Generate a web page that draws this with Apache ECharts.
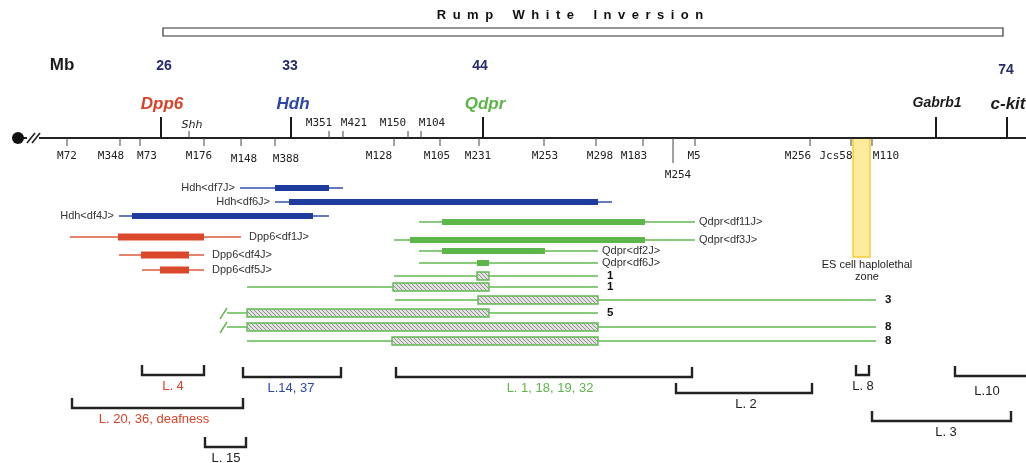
<!DOCTYPE html>
<html><head><meta charset="utf-8">
<script src="https://cdn.jsdelivr.net/npm/echarts@6/dist/echarts.min.js"></script>
<style>html,body{margin:0;padding:0;background:#fff}#c{width:1026px;height:463px}</style>
</head><body><div id="c"></div>
<script>
// ---------- DATA (map positions along the chromosome, arbitrary map units) ----------
const inversionTitle = 'Rump White Inversion';
const inversionSpan = [163, 1003];

const mbLabels = ['26', '33', '44', '74'];
const mbPos = [164, 290, 480, 1006];

const genes = ['Dpp6', 'Hdh', 'Qdpr', 'Gabrb1', 'c-kit'];
const genePos = [161, 291, 483, 936, 1007];
const geneLabelPos = [162, 293, 485, 937, 1008];

const upperMarkers = ['Shh', 'M351', 'M421', 'M150', 'M104'];
const upperPos = [189, 329, 343, 408, 421];
const upperLabelPos = [192, 319, 354, 393, 432];

const lowerMarkers = ['M72', 'M348', 'M73', 'M176', 'M148', 'M388', 'M128', 'M105', 'M231', 'M253', 'M298', 'M183', 'M254', 'M5', 'M256', 'Jcs58', 'M110'];
const lowerPos = [67, 120, 140, 204, 241, 275, 394, 440, 479, 544, 596, 643, 673, 695, 810, 851, 872];
const lowerLabelPos = [67, 111, 147, 199, 244, 286, 379, 437, 478, 545, 600, 634, 678, 694, 798, 836, 886];
const lowerLabelTier = [0, 0, 0, 0, 1, 1, 0, 0, 0, 0, 0, 0, 2, 0, 0, 0, 0];

const haploZone = [853, 870];
const haploLabel = 'ES cell haplolethal\nzone';

const delNames = ['Hdh<df7J>', 'Hdh<df6J>', 'Hdh<df4J>', 'Qdpr<df11J>', 'Dpp6<df1J>', 'Qdpr<df3J>', 'Qdpr<df2J>', 'Dpp6<df4J>', 'Qdpr<df6J>', 'Dpp6<df5J>'];
const delGroup = ['Hdh', 'Hdh', 'Hdh', 'Qdpr', 'Dpp6', 'Qdpr', 'Qdpr', 'Dpp6', 'Qdpr', 'Dpp6'];
const delOuterStart = [240, 275, 119, 419, 70, 394, 419, 119, 419, 142];
const delOuterEnd = [343, 612, 329, 695, 241, 695, 598, 204, 598, 204];
const delInnerStart = [275, 289, 132, 442, 118, 410, 442, 141, 477, 160];
const delInnerEnd = [329, 598, 313, 645, 204, 645, 545, 189, 489, 189];

const compLabels = ['1', '1', '3', '5', '8', '8'];
const compLineStart = [394, 247, 395, 227, 227, 247];
const compLineEnd = [598, 598, 876, 598, 876, 876];
const compBoxStart = [477, 393, 478, 247, 247, 392];
const compBoxEnd = [489, 489, 598, 489, 598, 598];
const compBroken = [false, false, false, true, true, false];

const bracketLabels = ['L. 4', 'L.14, 37', 'L. 20, 36, deafness', 'L. 15', 'L. 1, 18, 19, 32', 'L. 2', 'L. 8', 'L.10', 'L. 3'];
const bracketStart = [142, 243, 72, 205, 396, 676, 856, 955, 872];
const bracketEnd = [204, 341, 243, 246, 692, 812, 869, 1040, 1011];
const bracketLabelPos = [173, 291, 154, 226, 550, 746, 863, 987, 946];
const bracketGroup = ['Dpp6', 'Hdh', 'Dpp6', '', 'Qdpr', '', '', '', ''];

// ---------- LAYOUT (vertical tracks) & STYLE ----------
const Y_TITLE = 15, Y_BOX = [28, 36], Y_MB = 66, Y_GENE = 104, Y_CHR = 138;
const delRows = [188, 202, 216, 222, 237, 240, 251, 255, 263, 270];
const compRows = [276, 287, 300, 313, 327, 341];
const bracketRows = [365, 367, 398, 437, 367, 383, 365, 366, 411];
const COL = {
  Dpp6: { text: '#d8432a', bar: '#d9482b', line: '#dd5a3c' },
  Hdh: { text: '#2b46a8', bar: '#1e3b9e', line: '#2f4eaa' },
  Qdpr: { text: '#5db549', bar: '#5cb64a', line: '#62b952' },
  '': { text: '#222', bar: '#222', line: '#222' }
};
const geneColors = ['#d8432a', '#2b46a8', '#5db549', '#1c1c1c', '#1c1c1c'];
const geneSizes = [17, 17, 17, 14, 17];
const SANS = '"Liberation Sans", Arial, sans-serif';
const MONO = '"DejaVu Sans Mono", monospace';

// hatch pattern
const pc = document.createElement('canvas'); pc.width = 4; pc.height = 4;
const pg = pc.getContext('2d');
pg.fillStyle = '#e2e2e2'; pg.fillRect(0, 0, 4, 4);
pg.strokeStyle = '#868686'; pg.lineWidth = 0.9;
pg.beginPath(); pg.moveTo(0, 0); pg.lineTo(4, 4); pg.moveTo(-1, 3); pg.lineTo(1, 5); pg.moveTo(3, -1); pg.lineTo(5, 1); pg.stroke();
const hatch = { image: pc, repeat: 'repeat' };

const chart = echarts.init(document.getElementById('c'), null, { renderer: 'canvas' });

function px(api, x, y) { return api.coord([x, y]); }
function txt(text, x, y, font, fill, align, vAlign, extra) {
  return { type: 'text', style: Object.assign({ text, x, y, font, fill, align: align || 'center', verticalAlign: vAlign || 'middle' }, extra || {}) };
}
function base(name, data, renderItem, z) {
  return { type: 'custom', name, coordinateSystem: 'cartesian2d', data, renderItem, silent: true, clip: false, animation: false, z: z || 2 };
}
const spaced = inversionTitle.split(' ').map(w => w.split('').join('\u2002')).join('\u2003\u2002');

const series = [
  // header: inversion box, title, Mb and Mb values
  base('header', [[inversionSpan[0], Y_BOX[0]]], (p, api) => {
    const a = px(api, inversionSpan[0], Y_BOX[0]), b = px(api, inversionSpan[1], Y_BOX[1]);
    const ch = [
      { type: 'rect', shape: { x: a[0], y: a[1], width: b[0] - a[0], height: b[1] - a[1] }, style: { fill: '#fff', stroke: '#333', lineWidth: 1.2 } },
      txt(spaced, px(api, (inversionSpan[0] + inversionSpan[1]) / 2, Y_TITLE)[0] - 13, px(api, 0, Y_TITLE)[1], 'bold 13px ' + SANS, '#111'),
      txt('Mb', px(api, 62, Y_MB)[0], px(api, 0, Y_MB - 1)[1], 'bold 17px ' + SANS, '#1c1c1c')
    ];
    mbLabels.forEach((m, i) => {
      const c = px(api, mbPos[i], i === 3 ? Y_MB + 4 : Y_MB);
      ch.push(txt(m, c[0], c[1], 'bold 14px ' + SANS, '#262c6a'));
    });
    return { type: 'group', children: ch };
  }),
  // haplolethal zone
  base('zone', [[haploZone[0], Y_CHR]], (p, api) => {
    const a = px(api, haploZone[0], Y_CHR), b = px(api, haploZone[1], 257);
    return { type: 'group', children: [
      { type: 'rect', shape: { x: a[0], y: a[1], width: b[0] - a[0], height: b[1] - a[1] }, style: { fill: '#fbeb9a', stroke: '#f2cd3c', lineWidth: 1.5 } },
      txt(haploLabel, px(api, 867, 0)[0], px(api, 0, 271)[1], '11px ' + SANS, '#222', 'center', 'middle', { lineHeight: 12 })
    ] };
  }, 1),
  // chromosome line + centromere
  base('chromosome', [[30, Y_CHR]], (p, api) => {
    const a = px(api, 30, Y_CHR), b = px(api, 1026, Y_CHR), c = px(api, 18, Y_CHR);
    return { type: 'group', children: [
      { type: 'line', shape: { x1: a[0], y1: a[1], x2: b[0], y2: b[1] }, style: { stroke: '#222', lineWidth: 2 } },
      { type: 'line', shape: { x1: c[0], y1: c[1], x2: a[0], y2: a[1] }, style: { stroke: '#222', lineWidth: 2 } },
      { type: 'circle', shape: { cx: c[0], cy: c[1], r: 6 }, style: { fill: '#111' } },
      { type: 'rect', shape: { x: c[0] + 9, y: c[1] - 6, width: 12, height: 12 }, style: { fill: '#fff' } },
      { type: 'line', shape: { x1: c[0] + 9, y1: c[1] + 5, x2: c[0] + 17, y2: c[1] - 5 }, style: { stroke: '#222', lineWidth: 1.6 } },
      { type: 'line', shape: { x1: c[0] + 14, y1: c[1] + 5, x2: c[0] + 22, y2: c[1] - 5 }, style: { stroke: '#222', lineWidth: 1.6 } }
    ] };
  }, 3),
  // genes
  base('genes', genePos.map((g, i) => [g, Y_CHR]), (p, api) => {
    const i = p.dataIndex, a = px(api, genePos[i], Y_CHR), t = px(api, geneLabelPos[i], Y_GENE - (i === 3 ? 1 : 0));
    return { type: 'group', children: [
      { type: 'line', shape: { x1: a[0], y1: a[1], x2: a[0], y2: a[1] - 21 }, style: { stroke: '#1a1a1a', lineWidth: 2 } },
      txt(genes[i], t[0], t[1], 'italic bold ' + geneSizes[i] + 'px ' + SANS, geneColors[i])
    ] };
  }, 3),
  // upper markers
  base('upper', upperPos.map(u => [u, Y_CHR]), (p, api) => {
    const i = p.dataIndex, a = px(api, upperPos[i], Y_CHR), t = px(api, upperLabelPos[i], i === 0 ? 125 : 123);
    return { type: 'group', children: [
      { type: 'line', shape: { x1: a[0], y1: a[1], x2: a[0], y2: a[1] - 7 }, style: { stroke: '#444', lineWidth: 1 } },
      txt(upperMarkers[i], t[0], t[1], i === 0 ? 'italic 11px "DejaVu Sans", sans-serif' : '11px ' + MONO, '#222')
    ] };
  }, 3),
  // lower markers
  base('lower', lowerPos.map(u => [u, Y_CHR]), (p, api) => {
    const i = p.dataIndex, tier = lowerLabelTier[i], a = px(api, lowerPos[i], Y_CHR);
    const t = px(api, lowerLabelPos[i], [156, 159, 175][tier]);
    return { type: 'group', children: [
      { type: 'line', shape: { x1: a[0], y1: a[1], x2: a[0], y2: a[1] + (tier === 2 ? 25 : 8) }, style: { stroke: '#444', lineWidth: 1 } },
      txt(lowerMarkers[i], t[0], t[1], '11px ' + MONO, '#222')
    ] };
  }, 3),
  // deletions
  base('deletions', delNames.map((d, i) => [delOuterStart[i], delRows[i]]), (p, api) => {
    const i = p.dataIndex, c = COL[delGroup[i]], y = delRows[i];
    const o1 = px(api, delOuterStart[i], y), o2 = px(api, delOuterEnd[i], y);
    const n1 = px(api, delInnerStart[i], y), n2 = px(api, delInnerEnd[i], y);
    const h = delGroup[i] === 'Dpp6' ? 7 : 6;
    const left = delGroup[i] === 'Hdh';
    const lab = left ? txt(delNames[i], o1[0] - 5, o1[1], '11px ' + SANS, '#333', 'right')
                     : txt(delNames[i], o2[0] + (delGroup[i] === 'Dpp6' ? 8 : 4), o2[1], '11px ' + SANS, '#333', 'left');
    return { type: 'group', children: [
      { type: 'line', shape: { x1: o1[0], y1: o1[1], x2: o2[0], y2: o2[1] }, style: { stroke: c.line, lineWidth: 1.5 } },
      { type: 'rect', shape: { x: n1[0], y: n1[1] - h / 2, width: n2[0] - n1[0], height: h }, style: { fill: c.bar } },
      lab
    ] };
  }, 4),
  // complementation rows
  base('complementation', compLabels.map((d, i) => [compLineStart[i], compRows[i]]), (p, api) => {
    const i = p.dataIndex, y = compRows[i];
    const l1 = px(api, compLineStart[i], y), l2 = px(api, compLineEnd[i], y);
    const b1 = px(api, compBoxStart[i], y), b2 = px(api, compBoxEnd[i], y);
    const ch = [
      { type: 'line', shape: { x1: l1[0], y1: l1[1], x2: l2[0], y2: l2[1] }, style: { stroke: '#62b952', lineWidth: 1.5 } },
      { type: 'rect', shape: { x: b1[0], y: b1[1] - 4, width: b2[0] - b1[0], height: 8 }, style: { fill: hatch, stroke: '#62b952', lineWidth: 1.4 } },
      txt(compLabels[i], l2[0] + 9, l2[1], 'bold 11.5px ' + SANS, '#111', 'left')
    ];
    if (compBroken[i]) ch.push({ type: 'line', shape: { x1: l1[0] - 7, y1: l1[1] + 6, x2: l1[0], y2: l1[1] - 5 }, style: { stroke: '#62b952', lineWidth: 1.4 } });
    return { type: 'group', children: ch };
  }, 4),
  // brackets
  base('brackets', bracketLabels.map((d, i) => [bracketStart[i], bracketRows[i]]), (p, api) => {
    const i = p.dataIndex, y = bracketRows[i];
    const a = px(api, bracketStart[i], y), b = px(api, bracketEnd[i], y + 10);
    const t = px(api, bracketLabelPos[i], y + 21 + (i === 7 ? 4 : 0));
    return { type: 'group', children: [
      { type: 'polyline', shape: { points: [[a[0], a[1]], [a[0], b[1]], [b[0], b[1]], [b[0], a[1]]] }, style: { stroke: '#222', lineWidth: 2.4, fill: null } },
      txt(bracketLabels[i], t[0], t[1], '13px ' + SANS, COL[bracketGroup[i]].text)
    ] };
  }, 4)
];

chart.setOption({
  animation: false,
  grid: { left: 0, right: 0, top: 0, bottom: 0 },
  xAxis: { type: 'value', min: 0, max: 1026, show: false },
  yAxis: { type: 'value', min: 0, max: 463, inverse: true, show: false },
  series
});
</script></body></html>
